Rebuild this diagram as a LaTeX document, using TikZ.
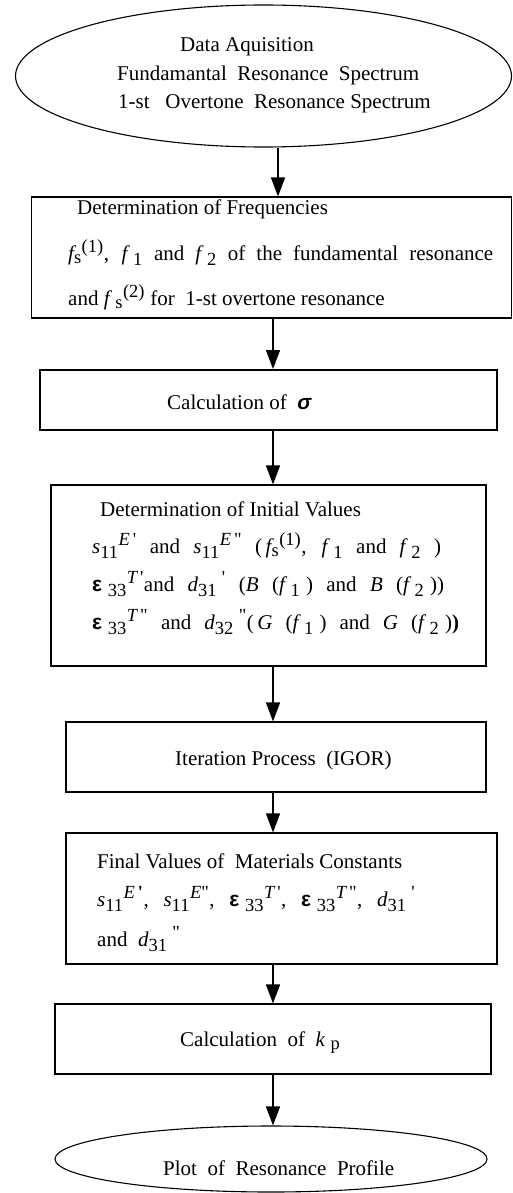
\documentclass[tikz,border=0pt]{standalone}
\usepackage{amsmath}
\usepackage{fontspec}
\setmainfont{Liberation Serif}
\newfontfamily\lsans{Liberation Sans}
\newfontfamily\rawserif{Liberation Serif}
\DeclareMathSizes{21}{21}{18.5}{15}
\usetikzlibrary{arrows.meta,shapes.geometric}
\newcommand{\ff}{\textit{f}}
\newcommand{\epsb}{{\lsans\bfseries ε}}
\newcommand{\spr}{{\rawserif '}}
\newcommand{\dpr}{{\rawserif "}}
\newcommand{\lo}[1]{{}_{\text{#1}}}
\newcommand{\hi}[1]{{}^{\text{#1}}}
\newcommand{\gp}{\mkern5mu}
\begin{document}
\begin{tikzpicture}[x=1pt,y=-1pt,
  every node/.style={font=\fontsize{21}{25}\selectfont},
  shapebox/.style={draw, line width=1.1pt, rectangle, inner sep=0pt},
  oval/.style={draw, line width=1.1pt, ellipse, inner sep=0pt},
  txt/.style={anchor=base west, inner sep=0pt},
  arr/.style={line width=1.4pt, -{Triangle[length=19pt,width=14pt]}}]
\useasboundingbox (0,0) rectangle (513,1193);
% shapes
\node[oval, minimum width=496pt, minimum height=142pt] (e1) at (263.5,76) {};
\node[shapebox, minimum width=480pt, minimum height=121pt] (b1) at (271.5,257.5) {};
\node[shapebox, line width=2pt, minimum width=457pt, minimum height=60pt] (b2) at (268.5,400) {};
\node[shapebox, minimum width=435pt, minimum height=181pt] (b3) at (268.5,575.5) {};
\node[shapebox, minimum width=420pt, minimum height=70pt] (b4) at (276,757) {};
\node[shapebox, minimum width=431pt, minimum height=131pt] (b5) at (281.5,898.5) {};
\node[shapebox, minimum width=436pt, minimum height=70pt] (b6) at (273,1039) {};
\node[oval, minimum width=432pt, minimum height=66pt] (e2) at (271,1159) {};
% texts
\node[txt] (t1a) at (180,52) {Data Aquisition};
\node[txt] (t1b) at (117,81) {Fundamantal\ \ Resonance\ \ Spectrum};
\node[txt] (t1c) at (118,109) {1-st\ \ \ Overtone\ \ Resonance Spectrum};
\node[txt] (t2a) at (77,214) {Determination of Frequencies};
\node[txt] (t2b) at (68,260) {\makebox[425pt][s]{$\ff\lo{s}\hi{(1)}$, $\ff\gp\lo{1}$ and $\ff\gp\lo{2}$ of the fundamental resonance}};
\node[txt] (t2c) at (68,305) {and $\ff\gp\lo{s}\hi{(2)}$ for\ \ 1-st overtone resonance};
\node[txt] (t3) at (167,409) {Calculation of\ \ {\lsans\bfseries\itshape σ}};
\node[txt] (t4a) at (100,516) {Determination of Initial Values};
\node[txt] (t4b) at (92,553) {\makebox[349pt][s]{$\textit{s}\lo{11}{}^{\textit{E}\,\text{\spr}}$ and $\textit{s}\lo{11}{}^{\textit{E}\,\text{\dpr}}$ (\,$\ff\lo{s}\hi{(1)}$, $\ff\gp\lo{1}$ and $\ff\gp\lo{2}$ )}};
\node[txt] (t4c) at (92,591) {\makebox[352pt][s]{\epsb$\gp\lo{33}{}^{\textit{T}\,\text{\spr}}$and $\textit{d}\lo{31}{}^{\gp\text{\spr}}$ (\textit{B} ($\ff\gp\lo{1}\gp$) and \textit{B} ($\ff\gp\lo{2}\gp$))}};
\node[txt] (t4d) at (92,629) {\makebox[367pt][s]{\epsb$\gp\lo{33}{}^{\textit{T}\,\text{\dpr}}$ and $\textit{d}\lo{32}{}^{\gp\text{\dpr}}$(\,\textit{G} ($\ff\gp\lo{1}\gp$) and \textit{G} ($\ff\gp\lo{2}\gp$)\textbf{)}}};
\node[txt] (t5) at (175,765) {Iteration Process\ \ (IGOR)};
\node[txt] (t6a) at (97,868) {Final Values of\ \ Materials Constants};
\node[txt] (t6b) at (97,906) {\makebox[318pt][s]{$\textit{s}\lo{11}{}^{\textit{E}\,\textbf{\spr}}$, $\textit{s}\lo{11}{}^{\textit{E}\text{\dpr}}$, \epsb$\gp\lo{33}{}^{\textit{T}\,\text{\spr}}$, \epsb$\gp\lo{33}{}^{\textit{T}\,\text{\dpr}}$, $\textit{d}\lo{31}{}^{\gp\text{\spr}}$}};
\node[txt] (t6c) at (97,946) {and\ \ $\textit{d}\lo{31}{}^{\gp\text{\dpr}}$};
\node[txt] (t7) at (180,1046) {Calculation\ \ of\ \ $\textit{k}\gp\lo{p}$};
\node[txt] (t8) at (163,1175) {Plot\ \ of\ \ Resonance\ \ Profile};
% connector columns
\coordinate (xa) at (278,0);
\coordinate (xb) at (273,0);
\draw[arr] (e1.south -| xa) -- (b1.north -| xa);
\draw[arr] (b1.south -| xb) -- (b2.north -| xb);
\draw[arr] (b2.south -| xb) -- (b3.north -| xb);
\draw[arr] (b3.south -| xb) -- (b4.north -| xb);
\draw[arr] (b4.south -| xb) -- (b5.north -| xb);
\draw[arr] (b5.south -| xb) -- (b6.north -| xb);
\draw[arr] (b6.south -| xb) -- (e2.north -| xb);
\end{tikzpicture}
\end{document}
